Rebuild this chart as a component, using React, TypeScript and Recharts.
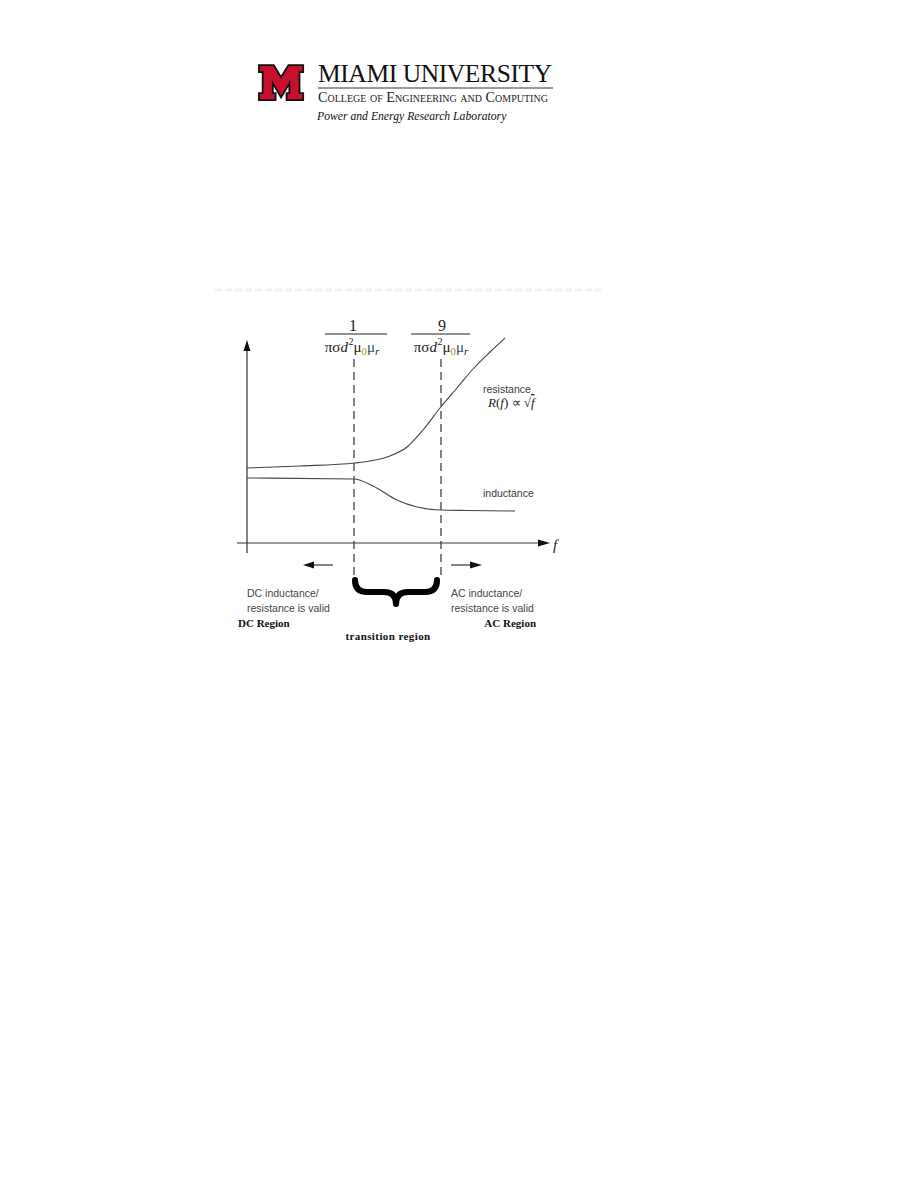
import React from 'react'
import {
  ComposedChart,
  Line,
  ReferenceArea,
  ReferenceDot,
  ReferenceLine,
  XAxis,
  YAxis,
} from 'recharts'

// frequency positions of the two transition limits (arbitrary units)
const F_LOW = 10.7
const F_HIGH = 19.4

// schematic curves
const RESISTANCE = [
  { x: 0, y: 7.5 },
  { x: 5.3, y: 7.7 },
  { x: 10.8, y: 8.0 },
  { x: 12.6, y: 8.25 },
  { x: 14.3, y: 8.7 },
  { x: 16, y: 9.6 },
  { x: 17.6, y: 11.3 },
  { x: 19.3, y: 13.5 },
  { x: 21, y: 15.5 },
  { x: 22.6, y: 17.4 },
  { x: 24.3, y: 19.1 },
  { x: 25.8, y: 20.5 },
]

const INDUCTANCE = [
  { x: 0, y: 6.5 },
  { x: 10.7, y: 6.4 },
  { x: 12.6, y: 5.7 },
  { x: 15, y: 4.3 },
  { x: 17, y: 3.6 },
  { x: 19.4, y: 3.3 },
  { x: 22, y: 3.25 },
  { x: 26.8, y: 3.2 },
]

const SANS = '"Liberation Sans", Arial, sans-serif'
const SERIF = '"Liberation Serif", "Times New Roman", serif'
const INK = '#3a3a3a'

type Pt = { cx?: number; cy?: number }

const label =
  (text: React.ReactNode, style: React.SVGProps<SVGTextElement>) =>
  ({ cx = 0, cy = 0 }: Pt) => (
    <text x={cx} y={cy} {...style}>
      {text}
    </text>
  )

const arrow =
  (dir: 'up' | 'right' | 'left') =>
  ({ cx = 0, cy = 0 }: Pt) => {
    const pts =
      dir === 'up'
        ? `${cx},${cy} ${cx - 3.5},${cy + 11} ${cx + 3.5},${cy + 11}`
        : dir === 'right'
        ? `${cx},${cy} ${cx - 12},${cy - 3.5} ${cx - 12},${cy + 3.5}`
        : `${cx},${cy} ${cx + 11},${cy - 3.5} ${cx + 11},${cy + 3.5}`
    return <polygon points={pts} fill="#111" />
  }

const Denominator = (
  <>
    πσ<tspan fontStyle="italic">d</tspan>
    <tspan dy={-7} dx={0.5} fontSize={10}>2</tspan>
    <tspan dy={7}>μ</tspan>
    <tspan dy={2.5} fontSize={11} fill="#c08a10">0</tspan>
    <tspan dy={-2.5} fill="#2a4a6a">μ</tspan>
    <tspan dy={2.5} fontSize={11} fontStyle="italic">r</tspan>
  </>
)

const Brace = (props: any) => {
  const { x, y, width: w, height: h } = props
  const mid = x + w / 2
  const k = y + h * 0.5
  const r = h * 0.5
  const d = `M${x},${y} Q${x},${k} ${x + r},${k} L${mid - r},${k} Q${mid},${k} ${mid},${y + h} Q${mid},${k} ${mid + r},${k} L${x + w - r},${k} Q${x + w},${k} ${x + w},${y}`
  return <path d={d} fill="none" stroke="#000" strokeWidth={6} strokeLinecap="round" strokeLinejoin="round" />
}

function Logo() {
  return (
    <svg width={340} height={90} style={{ position: 'absolute', left: 250, top: 50 }}>
      <g transform="translate(9,15) scale(0.92,0.875)">
        <polygon
          points="0,0 16,0 24,14 32,0 48,0 48,8 44,8 44,32 48,32 48,40 30,40 30,32 33,32 33,21 24,37 15,21 15,32 18,32 18,40 0,40 0,32 4,32 4,8 0,8"
          fill="#c8102e"
          stroke="#111"
          strokeWidth={2}
          strokeLinejoin="miter"
        />
      </g>
      <text x={68} y={32} fontFamily={SERIF} fontSize={25.5} letterSpacing={-0.4} fill="#111">
        MIAMI UNIVERSITY
      </text>
      <line x1={68} x2={303} y1={38} y2={38} stroke="#9a9a9a" strokeWidth={2} />
      <text x={68} y={52} fontFamily={SERIF} fontSize={14.3} style={{ fontVariant: 'small-caps' }} fill="#222">
        College of Engineering and Computing
      </text>
      <text x={67} y={70} fontFamily={SERIF} fontSize={11.7} fontStyle="italic" fill="#111">
        Power and Energy Research Laboratory
      </text>
    </svg>
  )
}

export default function App() {
  const small = { fontFamily: SANS, fontSize: 10.5, fill: '#454545' }
  const boldSerif = { fontFamily: SERIF, fontSize: 11, fontWeight: 700, fill: '#111' }
  const den = { fontFamily: SERIF, fontSize: 15, fill: '#222', textAnchor: 'middle' as const }
  const num = { fontFamily: SERIF, fontSize: 16, fill: '#222', textAnchor: 'middle' as const }

  return (
    <div style={{ position: 'absolute', left: 0, top: 0, width: 918, height: 1188, background: '#fff' }}>
      <Logo />
      <div style={{ position: 'absolute', left: 215, top: 283 }}>
        <ComposedChart width={390} height={370} margin={{ top: 0, right: 0, bottom: 0, left: 0 }}>
          <XAxis type="number" dataKey="x" domain={[-3.2, 35.8]} hide allowDataOverflow />
          <YAxis type="number" domain={[-11, 26]} hide allowDataOverflow />

          {/* faint cut-off caption line at the top */}
          <ReferenceLine
            segment={[{ x: -3.2, y: 25.3 }, { x: 35.4, y: 25.3 }]}
            stroke="#f1f1f1"
            strokeWidth={3}
            strokeDasharray="7 3"
            ifOverflow="visible"
          />

          {/* axes */}
          <ReferenceLine segment={[{ x: 0, y: -1 }, { x: 0, y: 19.5 }]} stroke="#333" strokeWidth={1.2} ifOverflow="visible" />
          <ReferenceLine segment={[{ x: -1, y: 0 }, { x: 29.2, y: 0 }]} stroke="#333" strokeWidth={1.2} ifOverflow="visible" />
          <ReferenceDot x={0} y={20.3} shape={arrow('up')} ifOverflow="visible" />
          <ReferenceDot x={30.3} y={0} shape={arrow('right')} ifOverflow="visible" />
          <ReferenceDot x={30.6} y={-0.7} shape={label('f', { fontFamily: SERIF, fontSize: 15, fontStyle: 'italic', fill: '#222' })} ifOverflow="visible" />

          {/* transition limits */}
          <ReferenceLine segment={[{ x: F_LOW, y: -3.2 }, { x: F_LOW, y: 18.6 }]} stroke="#333" strokeWidth={1.2} strokeDasharray="8 5" ifOverflow="visible" />
          <ReferenceLine segment={[{ x: F_HIGH, y: -3.2 }, { x: F_HIGH, y: 18.6 }]} stroke="#333" strokeWidth={1.2} strokeDasharray="8 5" ifOverflow="visible" />

          <ReferenceDot x={F_LOW - 0.1} y={21.2} shape={label('1', num)} ifOverflow="visible" />
          <ReferenceLine segment={[{ x: 7.8, y: 20.9 }, { x: 14.0, y: 20.9 }]} stroke="#222" strokeWidth={1} ifOverflow="visible" />
          <ReferenceDot x={F_LOW - 0.2} y={19.1} shape={label(Denominator, den)} ifOverflow="visible" />

          <ReferenceDot x={F_HIGH + 0.1} y={21.2} shape={label('9', num)} ifOverflow="visible" />
          <ReferenceLine segment={[{ x: 16.4, y: 20.9 }, { x: 22.3, y: 20.9 }]} stroke="#222" strokeWidth={1} ifOverflow="visible" />
          <ReferenceDot x={F_HIGH} y={19.1} shape={label(Denominator, den)} ifOverflow="visible" />

          <Line data={RESISTANCE} dataKey="y" type="monotone" stroke="#444" strokeWidth={1.1} dot={false} isAnimationActive={false} />
          <Line data={INDUCTANCE} dataKey="y" type="monotone" stroke="#444" strokeWidth={1.1} dot={false} isAnimationActive={false} />

          <ReferenceDot x={23.6} y={15.0} shape={label('resistance', { ...small, fill: INK })} ifOverflow="visible" />
          <ReferenceDot
            x={24.1}
            y={13.6}
            shape={label(
              <>
                <tspan fontStyle="italic">R</tspan>(<tspan fontStyle="italic">f</tspan>) ∝ √<tspan fontStyle="italic" textDecoration="overline">f</tspan>
              </>,
              { fontFamily: SERIF, fontSize: 13, fill: '#222' }
            )}
            ifOverflow="visible"
          />
          <ReferenceDot x={23.6} y={4.6} shape={label('inductance', { ...small, fill: INK })} ifOverflow="visible" />

          {/* region annotations */}
          <ReferenceLine segment={[{ x: 5.9, y: -2.2 }, { x: 8.6, y: -2.2 }]} stroke="#222" strokeWidth={1.1} ifOverflow="visible" />
          <ReferenceDot x={5.6} y={-2.2} shape={arrow('left')} ifOverflow="visible" />
          <ReferenceLine segment={[{ x: 20.4, y: -2.2 }, { x: 23.2, y: -2.2 }]} stroke="#222" strokeWidth={1.1} ifOverflow="visible" />
          <ReferenceDot x={23.5} y={-2.2} shape={arrow('right')} ifOverflow="visible" />

          <ReferenceArea x1={10.8} x2={19.0} y1={-6.1} y2={-3.7} shape={Brace} ifOverflow="visible" />

          <ReferenceDot x={0} y={-5.4} shape={label('DC inductance/', small)} ifOverflow="visible" />
          <ReferenceDot x={0} y={-6.9} shape={label('resistance is valid', small)} ifOverflow="visible" />
          <ReferenceDot x={-0.9} y={-8.4} shape={label('DC Region', boldSerif)} ifOverflow="visible" />

          <ReferenceDot x={20.4} y={-5.4} shape={label('AC inductance/', small)} ifOverflow="visible" />
          <ReferenceDot x={20.4} y={-6.9} shape={label('resistance is valid', small)} ifOverflow="visible" />
          <ReferenceDot x={28.9} y={-8.4} shape={label('AC Region', { ...boldSerif, textAnchor: 'end' })} ifOverflow="visible" />

          <ReferenceDot
            x={14.1}
            y={-9.7}
            shape={label('transition region', { ...boldSerif, textAnchor: 'middle', letterSpacing: 0.4 })}
            ifOverflow="visible"
          />
        </ComposedChart>
      </div>
    </div>
  )
}
